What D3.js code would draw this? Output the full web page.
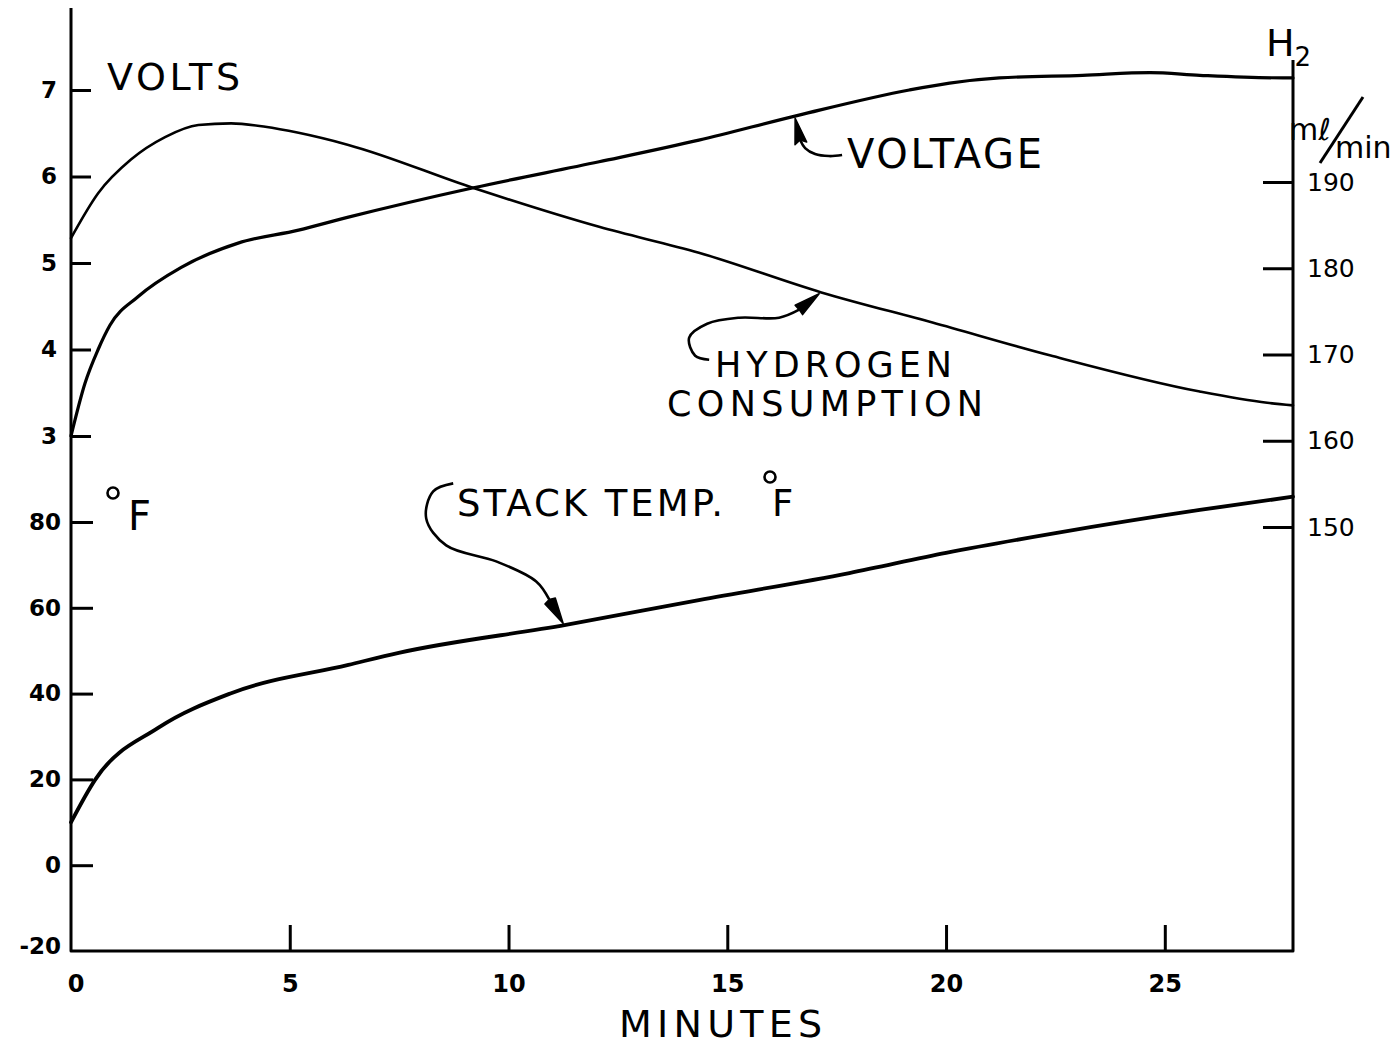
<!DOCTYPE html>
<html>
<head>
<meta charset="utf-8">
<script src="https://cdn.jsdelivr.net/npm/d3@7"></script>
<style>
body { margin: 0; background: #fff; }
svg { display: block; font-family: "DejaVu Sans", sans-serif; }
</style>
</head>
<body>
<svg id="chart" width="1400" height="1047"></svg>
<script>
// tick labels
var minuteTicks = [0, 5, 10, 15, 20, 25];
var voltTicks = [3, 4, 5, 6, 7];
var tempTicks = [-20, 0, 20, 40, 60, 80];
var h2Ticks = [150, 160, 170, 180, 190];

// voltage (volts) vs minutes
var voltMinutes = [0, 0.32, 0.62, 0.89, 1.53, 2.52, 3.82, 5.2, 6.34, 9.2, 12.07, 14.35, 16.64, 19.16, 20.08, 21.22, 23.12, 24.66, 25.8, 27.7, 27.93];
var voltValues  = [3.0, 3.61, 4.0, 4.28, 4.61, 4.95, 5.23, 5.38, 5.53, 5.87, 6.17, 6.42, 6.71, 7.0, 7.08, 7.14, 7.17, 7.2, 7.17, 7.14, 7.14];

// hydrogen consumption (ml/min) vs minutes
var h2Minutes = [0, 0.62, 1.37, 2.15, 2.91, 3.66, 4.44, 5.2, 6.34, 9.2, 12.07, 14.35, 17.15, 19.69, 22.37, 25.8, 27.34, 27.93];
var h2Values  = [183.5, 188.7, 192.6, 195.2, 196.6, 196.8, 196.4, 195.7, 194.3, 189.3, 184.8, 181.8, 177.2, 173.7, 169.9, 165.7, 164.4, 164.1];

// stack temperature (deg F) vs minutes
var tempMinutes = [0, 0.55, 1.99, 3.66, 6.34, 7.49, 11.31, 14.35, 17.79, 20.0, 22.5, 25.8, 27.93];
var tempValues  = [10, 19.9, 32.0, 40.1, 46.7, 49.5, 56.0, 61.8, 68.1, 72.8, 77.4, 82.8, 85.9];

var svg = d3.select('#chart');

var x = d3.scaleLinear().domain([0, 27.93]).range([71, 1293]);
var yVolt = d3.scaleLinear().domain([3, 7]).range([436, 90]);
var yTemp = d3.scaleLinear().domain([-20, 80]).range([951, 522]);
var yH2 = d3.scaleLinear().domain([150, 190]).range([527, 182]);

// frame: left axis, bottom axis, right axis
svg.append('path')
  .attr('d', 'M' + x(0) + ',8 L' + x(0) + ',' + yTemp(-20) + ' L' + x(27.93) + ',' + yTemp(-20) + ' L' + x(27.93) + ',60')
  .attr('fill', 'none')
  .attr('stroke', 'black')
  .attr('stroke-width', 3)
  .attr('stroke-linejoin', 'round');

function styleAxis(g, size, weight) {
  g.select('.domain').remove();
  g.selectAll('.tick line').attr('stroke', 'black').attr('stroke-width', 3);
  g.selectAll('.tick text')
    .attr('fill', 'black')
    .style('font-size', size + 'px')
    .style('font-weight', weight)
    .style('font-family', '"DejaVu Sans", sans-serif');
}

var plain = d => String(d);

// left volts axis
svg.append('g')
  .attr('transform', 'translate(' + x(0) + ',0)')
  .call(d3.axisLeft(yVolt).tickValues(voltTicks).tickFormat(plain).tickSize(-20).tickPadding(14))
  .call(g => styleAxis(g, 23, 'bold'));

// left temperature axis
svg.append('g')
  .attr('transform', 'translate(' + x(0) + ',0)')
  .call(d3.axisLeft(yTemp).tickValues(tempTicks).tickFormat(plain).tickSize(-22).tickPadding(10))
  .call(g => styleAxis(g, 23, 'bold'))
  .call(g => g.selectAll('.tick').filter(d => d == -20).select('line').remove())
  .call(g => g.selectAll('.tick').filter(d => d == -20).select('text').attr('dy', '0.1em'));

// right hydrogen axis
svg.append('g')
  .attr('transform', 'translate(' + x(27.93) + ',0)')
  .call(d3.axisRight(yH2).tickValues(h2Ticks).tickFormat(plain).tickSize(-30).tickPadding(14))
  .call(g => styleAxis(g, 25, 'normal'));

// bottom minutes axis
svg.append('g')
  .attr('transform', 'translate(0,' + yTemp(-20) + ')')
  .call(d3.axisBottom(x).tickValues(minuteTicks).tickFormat(plain).tickSize(-26).tickPadding(24))
  .call(g => styleAxis(g, 24, 'bold'))
  .call(g => g.selectAll('.tick').filter(d => d == 0).select('line').remove())
  .call(g => g.selectAll('.tick').filter(d => d == 0).attr('transform', 'translate(' + (x(0) + 5) + ',0)'));

// curves
var voltData = voltMinutes.map((m, i) => [m, voltValues[i]]);
var h2Data = h2Minutes.map((m, i) => [m, h2Values[i]]);
var tempData = tempMinutes.map((m, i) => [m, tempValues[i]]);

function curve(data, yScale, width) {
  svg.append('path')
    .datum(data)
    .attr('d', d3.line().x(d => x(d[0])).y(d => yScale(d[1])).curve(d3.curveMonotoneX))
    .attr('fill', 'none')
    .attr('stroke', 'black')
    .attr('stroke-width', width)
    .attr('stroke-linecap', 'round');
}
curve(h2Data, yH2, 2.6);
curve(voltData, yVolt, 3.2);
curve(tempData, yTemp, 3.8);

// leader arrows: tip sits on the curve, shaft offsets are relative to the tip
function interp(mins, vals, m) {
  return d3.scaleLinear().domain(mins).range(vals)(m);
}
function arrow(tx, ty, shaft) {
  var pts = shaft.map(p => [tx + p[0], ty + p[1]]);
  svg.append('path')
    .attr('d', d3.line().curve(d3.curveCatmullRom)(pts))
    .attr('fill', 'none')
    .attr('stroke', 'black')
    .attr('stroke-width', 2.6);
  var b = pts[0];
  var dx = tx - b[0], dy = ty - b[1];
  var len = Math.sqrt(dx * dx + dy * dy);
  var nx = -dy / len * 6, ny = dx / len * 6;
  var bx = tx - dx / len * 26, by = ty - dy / len * 26;
  svg.append('path')
    .attr('d', 'M' + tx + ',' + ty + ' L' + (bx + nx) + ',' + (by + ny) + ' L' + (b[0]) + ',' + (b[1]) + ' L' + (bx - nx) + ',' + (by - ny) + 'Z')
    .attr('fill', 'black')
    .attr('stroke', 'black')
    .attr('stroke-width', 1.5)
    .attr('stroke-linejoin', 'round');
}

var vm = 16.55;
arrow(x(vm), yVolt(interp(voltMinutes, voltValues, vm)) + 2,
  [[5, 22], [10, 30], [20, 36], [34, 38], [47, 37]]);

var hm = 17.1;
arrow(x(hm), yH2(interp(h2Minutes, h2Values, hm)) + 2,
  [[-20, 16], [-40, 24], [-80, 24], [-112, 30], [-130, 44], [-124, 62], [-110, 66]]);

var sm = 11.25;
arrow(x(sm), yTemp(interp(tempMinutes, tempValues, sm)) - 2,
  [[-14, -24], [-27, -42], [-67, -62], [-117, -78], [-137, -105], [-130, -132], [-110, -140]]);

// labels
function label(txt, lx, ly, size, len) {
  var t = svg.append('text')
    .attr('x', lx).attr('y', ly)
    .attr('fill', 'black')
    .style('font-size', size + 'px')
    .text(txt);
  if (len) t.attr('textLength', len).attr('lengthAdjust', 'spacing');
  return t;
}
function degree(cx, cy) {
  svg.append('circle')
    .attr('cx', cx).attr('cy', cy).attr('r', 5.5)
    .attr('fill', 'none')
    .attr('stroke', 'black')
    .attr('stroke-width', 2.6);
}
label('VOLTS', 107, 90, 38, 133);
label('VOLTAGE', 847, 168, 40, 195);
label('HYDROGEN', 715, 377, 35, 237);
label('CONSUMPTION', 667, 416, 35, 316);
label('STACK TEMP.', 457, 516, 37, 266);
label('F', 772, 516, 37);
degree(770, 477);
label('F', 128, 530, 40);
degree(113, 493);
label('MINUTES', 619, 1037, 38, 203);

// H2 units at the top right
var h2 = label('H', 1266, 56, 38);
h2.append('tspan').attr('dy', 10).style('font-size', '26px').text('2');
label('mℓ', 1289, 140, 30);
svg.append('line')
  .attr('x1', 1363).attr('y1', 97).attr('x2', 1320).attr('y2', 163)
  .attr('stroke', 'black').attr('stroke-width', 3);
label('min', 1335, 158, 30);
</script>
</body>
</html>
